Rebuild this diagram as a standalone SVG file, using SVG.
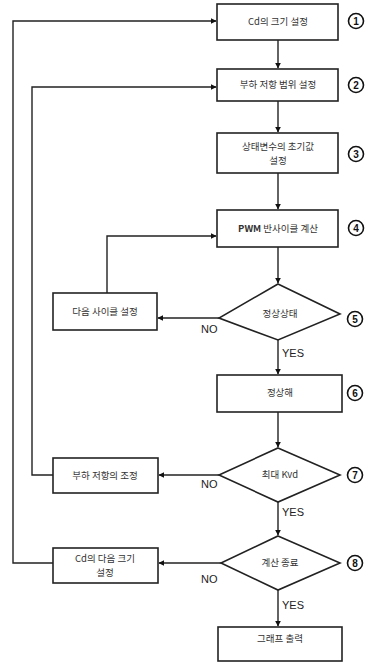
<svg xmlns="http://www.w3.org/2000/svg" width="371" height="662" viewBox="0 0 371 662">
<style>
.box{fill:#fff;stroke:#222;stroke-width:1.6}
.ln{fill:none;stroke:#222;stroke-width:1.4}
.t{font-family:"Noto Sans CJK KR","Noto Sans",sans-serif;font-size:9.5px;fill:#333;text-anchor:middle}
.lbl{font-family:"Liberation Sans",Arial,sans-serif;font-size:11px;fill:#222}
.num{font-family:"Liberation Sans",Arial,sans-serif;font-size:10px;font-weight:bold;fill:#111;text-anchor:middle}
.cir{fill:#fff;stroke:#111;stroke-width:1.6}
</style>
<defs>
<marker id="ah" viewBox="0 0 10 10" refX="9" refY="5" markerWidth="6" markerHeight="6" orient="auto" markerUnits="userSpaceOnUse">
<path d="M0,0 L10,5 L0,10 z" fill="#111"/>
</marker>
</defs>
<rect width="371" height="662" fill="#fff"/>
<g id="connectors">
<path class="ln" d="M278,40 V68" marker-end="url(#ah)"/>
<path class="ln" d="M278,101 V132" marker-end="url(#ah)"/>
<path class="ln" d="M278,173 V209" marker-end="url(#ah)"/>
<path class="ln" d="M278,247 V283" marker-end="url(#ah)"/>
<path class="ln" d="M278,340 V374" marker-end="url(#ah)"/>
<path class="ln" d="M278,412 V447" marker-end="url(#ah)"/>
<path class="ln" d="M278,502 V535" marker-end="url(#ah)"/>
<path class="ln" d="M278,590 V626" marker-end="url(#ah)"/>
<path class="ln" d="M219,318 H158" marker-end="url(#ah)"/>
<path class="ln" d="M219,475 H159" marker-end="url(#ah)"/>
<path class="ln" d="M221,563 H159" marker-end="url(#ah)"/>
<path class="ln" d="M107,293 V236 H216" marker-end="url(#ah)"/>
<path class="ln" d="M53,475 H32 V87 H216" marker-end="url(#ah)"/>
<path class="ln" d="M53,563 H13 V21 H216" marker-end="url(#ah)"/>
<text class="lbl" x="201" y="333">NO</text>
<text class="lbl" x="201" y="488">NO</text>
<text class="lbl" x="201" y="583">NO</text>
<text class="lbl" x="282" y="357">YES</text>
<text class="lbl" x="282" y="516">YES</text>
<text class="lbl" x="282" y="609">YES</text>
</g>
<g id="n1"><rect class="box" x="217" y="4" width="121" height="36"/><text class="t" x="278" y="25">Cd의 크기 설정</text></g>
<g id="n2"><rect class="box" x="217" y="69" width="121" height="32"/><text class="t" x="278" y="88">부하 저항 범위 설정</text></g>
<g id="n3"><rect class="box" x="217" y="133" width="121" height="40"/><text class="t" x="278" y="150">상태변수의 초기값</text><text class="t" x="278" y="164">설정</text></g>
<g id="n4"><rect class="box" x="217" y="210" width="121" height="37"/><text class="t" x="278" y="232"><tspan font-weight="bold">PWM</tspan> 반사이클 계산</text></g>
<g id="n5"><path class="box" d="M278,284 L340,314 L278,340 L219,318 Z"/><text class="t" x="280" y="317">정상상태</text></g>
<g id="n5b"><rect class="box" x="53" y="293" width="104" height="37"/><text class="t" x="105" y="315">다음 사이클 설정</text></g>
<g id="n6"><rect class="box" x="217" y="375" width="125" height="37"/><text class="t" x="280" y="396">정상해</text></g>
<g id="n7"><path class="box" d="M278,448 L340,475 L278,502 L219,475 Z"/><text class="t" x="280" y="478">최대 Kvd</text></g>
<g id="n7b"><rect class="box" x="53" y="458" width="105" height="35"/><text class="t" x="105" y="479">부하 저항의 조정</text></g>
<g id="n8"><path class="box" d="M278,536 L340,563 L278,590 L221,563 Z"/><text class="t" x="280" y="566">계산 종료</text></g>
<g id="n8b"><rect class="box" x="53" y="548" width="105" height="35"/><text class="t" x="105" y="562">Cd의 다음 크기</text><text class="t" x="105" y="576">설정</text></g>
<g id="n9"><rect class="box" x="218" y="627" width="124" height="34"/><text class="t" x="280" y="642">그래프 출력</text></g>
<g id="nums">
<circle class="cir" cx="356" cy="21" r="7.5"/><text class="num" x="356" y="25">1</text>
<circle class="cir" cx="356" cy="85" r="7.5"/><text class="num" x="356" y="89">2</text>
<circle class="cir" cx="356" cy="154" r="7.5"/><text class="num" x="356" y="158">3</text>
<circle class="cir" cx="356" cy="228" r="7.5"/><text class="num" x="356" y="232">4</text>
<circle class="cir" cx="355" cy="319" r="7.5"/><text class="num" x="355" y="323">5</text>
<circle class="cir" cx="355" cy="393" r="7.5"/><text class="num" x="355" y="397">6</text>
<circle class="cir" cx="355" cy="475" r="7.5"/><text class="num" x="355" y="479">7</text>
<circle class="cir" cx="355" cy="563" r="7.5"/><text class="num" x="355" y="567">8</text>
</g>
</svg>
